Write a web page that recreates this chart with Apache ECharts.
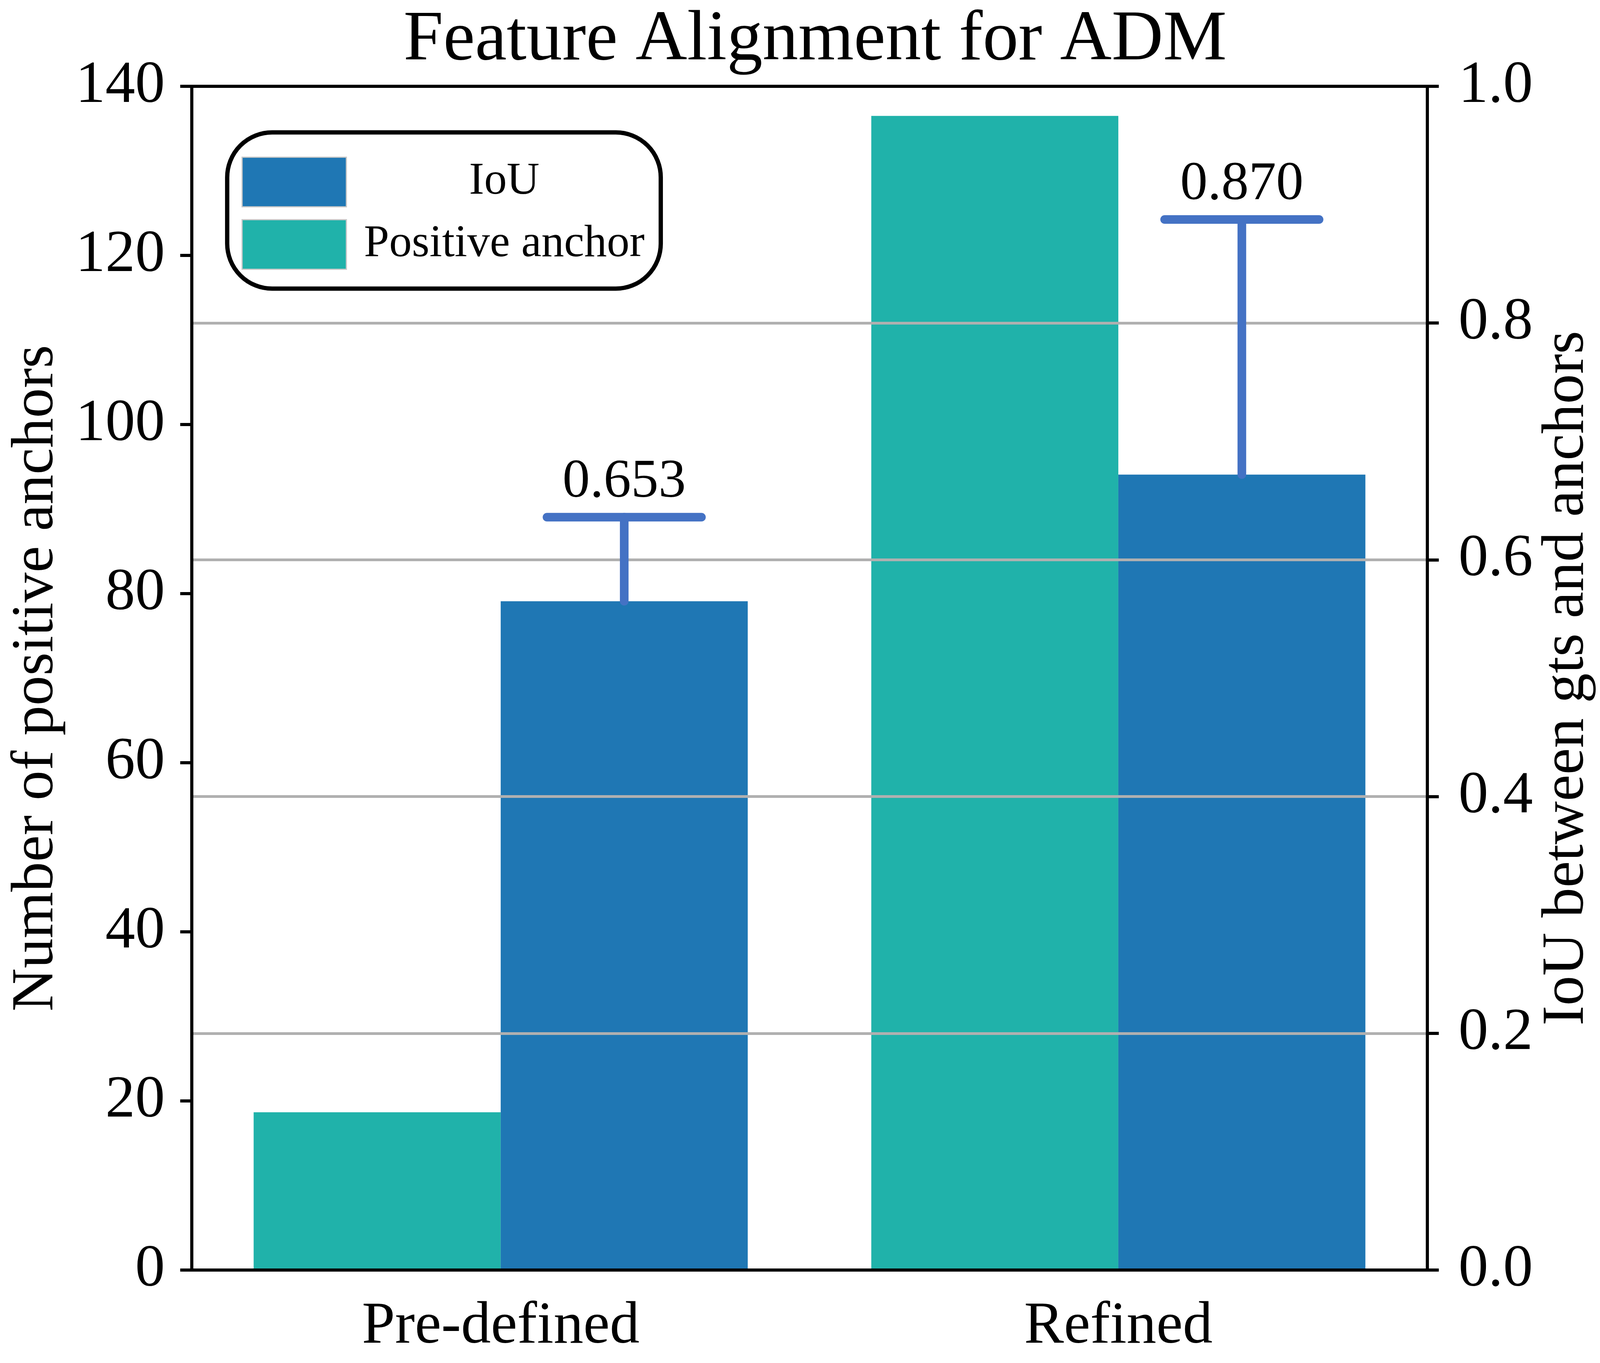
<!DOCTYPE html>
<html>
<head>
<meta charset="utf-8">
<script src="https://cdn.jsdelivr.net/npm/echarts@6/dist/echarts.min.js"></script>
<style>
html,body{margin:0;padding:0;background:#fff;overflow:hidden;}
#chart{width:100vw;height:100vh;}
</style>
</head>
<body>
<div id="chart"></div>
<script>
const categories = ['Pre-defined', 'Refined'];
const positiveAnchors = [18.66, 136.5];
const iouMean = [0.565, 0.672];
const iouUpper = [0.636, 0.8875];
const iouLabels = ['0.653', '0.870'];
const leftTicks = [0, 20, 40, 60, 80, 100, 120, 140];
const rightTicks = [0.0, 0.2, 0.4, 0.6, 0.8, 1.0];

const FONT = 'Liberation Serif';
const chart = echarts.init(document.getElementById('chart'));
const W = chart.getWidth(), H = chart.getHeight();
// layout measured on a 4803 x 3490 reference; scale to actual canvas
const sx = W / 4803, sy = H / 3490, sf = Math.sqrt(sx * sy);
const X = v => v * sx, Y = v => v * sy, F = v => v * sf;

const fsTitle = F(198), fsTick = F(165), fsName = F(166), fsVal = F(152);
const fsLegend = 136 * Math.min(sx, sy);
const errData = categories.map((c, i) => [i, iouMean[i], iouUpper[i], iouLabels[i]]);

const axisL = X(576), axisR = X(4309);
// legend text starts 5px right of the swatch; centre it at x = 1512 (reference px)
const legendTextStart = X(1038) + 5;
const legendTextW = 2 * (X(1512) - legendTextStart);
const legendPadR = Math.max(4, X(2003) - 4 - (legendTextStart + legendTextW)) + 26 * sx / 0.8528;

chart.setOption({
  backgroundColor: '#fff',
  animation: false,
  title: {
    text: 'Feature Alignment for ADM',
    left: X(2441), top: Y(154) - 0.80 * fsTitle, textAlign: 'center',
    textStyle: { fontFamily: FONT, fontSize: fsTitle, fontWeight: 'normal', color: '#000' }
  },
  legend: {
    data: ['IoU', 'Positive anchor'],
    orient: 'vertical',
    left: X(682), top: Y(339),
    itemWidth: X(313), itemHeight: Y(127), itemGap: Y(30),
    icon: 'rect',
    itemStyle: { borderColor: '#c8c8c8', borderWidth: 3 },
    formatter: name => '{c|' + name + '}',
    textStyle: {
      fontFamily: FONT, fontSize: fsLegend, color: '#000',
      rich: { c: { fontFamily: FONT, fontSize: fsLegend, color: '#000', width: legendTextW, align: 'center' } }
    },
    backgroundColor: '#fff',
    borderColor: '#000', borderWidth: 11, borderRadius: Math.min(X(135), Y(135)),
    padding: [Y(62), legendPadR, Y(48), X(43)]
  },
  grid: { left: axisL, right: W - axisR, top: Y(221), bottom: H - Y(3252), containLabel: false },
  xAxis: [{
    type: 'category', data: categories, position: 'bottom', z: 10,
    axisLine: { onZero: false, lineStyle: { color: '#000', width: 8 } },
    axisTick: { alignWithLabel: true, length: Y(35), lineStyle: { color: '#000', width: 6 } },
    axisLabel: { fontFamily: FONT, fontSize: fsTick, color: '#000', margin: Y(3444) - Y(3252) - 0.80 * fsTick },
    splitLine: { show: false }
  }, {
    type: 'category', data: categories, position: 'top', z: 10,
    axisLine: { onZero: false, lineStyle: { color: '#000', width: 8 } },
    axisTick: { show: false }, axisLabel: { show: false }, splitLine: { show: false }
  }],
  yAxis: [{
    type: 'value', min: leftTicks[0], max: leftTicks[leftTicks.length - 1], interval: 20,
    position: 'left', z: 10,
    name: 'Number of positive anchors', nameLocation: 'middle',
    nameGap: axisL - (X(164) + 0.2 * fsName),
    nameTextStyle: { fontFamily: FONT, fontSize: fsName, color: '#000' },
    axisLine: { show: true, onZero: false, lineStyle: { color: '#000', width: 8 } },
    axisTick: { show: true, length: X(35), lineStyle: { color: '#000', width: 8 } },
    axisLabel: { fontFamily: FONT, fontSize: fsTick, color: '#000', margin: axisL - X(495) },
    splitLine: { show: false }
  }, {
    type: 'value', min: rightTicks[0], max: rightTicks[rightTicks.length - 1], interval: 0.2,
    position: 'right', z: 4,
    name: 'IoU between gts and anchors', nameLocation: 'middle', nameRotate: 90,
    nameGap: (X(4647) - 0.138 * fsName) - axisR,
    nameTextStyle: { fontFamily: FONT, fontSize: fsName, color: '#000' },
    axisLine: { show: true, onZero: false, lineStyle: { color: '#000', width: 8 } },
    axisTick: { show: true, length: X(35), lineStyle: { color: '#000', width: 8 } },
    axisLabel: { fontFamily: FONT, fontSize: fsTick, color: '#000', margin: X(4403) - axisR, formatter: v => v.toFixed(1) },
    splitLine: { show: true, lineStyle: { color: '#b0b0b0', width: 7 } }
  }],
  series: [{
    name: 'Positive anchor', type: 'bar', xAxisIndex: 0, yAxisIndex: 0,
    data: positiveAnchors, barGap: '0%', barCategoryGap: '20%',
    itemStyle: { color: '#20b2aa' }, z: 2
  }, {
    name: 'IoU', type: 'bar', xAxisIndex: 0, yAxisIndex: 1,
    data: iouMean, barGap: '0%', barCategoryGap: '20%',
    itemStyle: { color: '#1f77b4' }, z: 2
  }, {
    name: 'err', type: 'custom', xAxisIndex: 0, yAxisIndex: 1, z: 6,
    data: errData,
    renderItem: function (params, api) {
      const idx = api.value(0);
      const base = api.coord([idx, api.value(1)]);
      const top = api.coord([idx, api.value(2)]);
      const band = api.size([1, 0])[0];
      const x = base[0] + band * 0.2;
      const half = band * 0.125;
      const col = '#4472c4';
      const lw = 24 * sf;
      return {
        type: 'group',
        children: [
          { type: 'line', shape: { x1: x, y1: base[1], x2: x, y2: top[1] },
            style: { stroke: col, lineWidth: lw, lineCap: 'round' } },
          { type: 'line', shape: { x1: x - half, y1: top[1], x2: x + half, y2: top[1] },
            style: { stroke: col, lineWidth: lw, lineCap: 'round' } },
          { type: 'text', x: x, y: top[1] - Y(47) + 0.2 * fsVal,
            style: { text: iouLabels[idx], fontFamily: FONT, fontSize: fsVal, fill: '#000',
                     textAlign: 'center', textVerticalAlign: 'bottom' } }
        ]
      };
    }
  }]
});
</script>
</body>
</html>
